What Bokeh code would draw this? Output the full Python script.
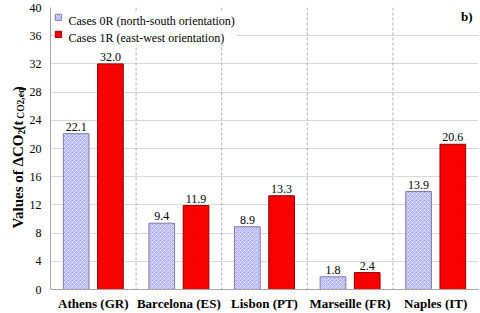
import math
from bokeh.plotting import figure
from bokeh.layouts import row
from bokeh.models import (ColumnDataSource, FactorRange, FixedTicker, Span, Label,
                          Legend, LegendItem, Range1d, BoxAnnotation)
from bokeh.transform import dodge
from bokeh.embed import file_html
from bokeh.resources import INLINE

# ---- data ----
cities = ["Athens (GR)", "Barcelona (ES)", "Lisbon (PT)", "Marseille (FR)", "Naples (IT)"]
cases_0r = [22.1, 9.4, 8.9, 1.8, 13.9]
cases_1r = [32.0, 11.9, 13.3, 2.4, 20.6]
y_ticks = [0, 4, 8, 12, 16, 20, 24, 28, 32, 36, 40]
series_names = ["Cases 0R (north-south orientation)", "Cases 1R (east-west orientation)"]

FONT = "Liberation Serif, Times New Roman, DejaVu Serif, serif"
H = 313
LW = 26  # width of the strip holding the y-axis title

src = ColumnDataSource(dict(
    city=cities,
    v0=cases_0r,
    v1=cases_1r,
    t0=["%.1f" % v for v in cases_0r],
    t1=["%.1f" % v for v in cases_1r],
))

p = figure(width=480 - LW, height=H, x_range=FactorRange(factors=cities, range_padding=0),
           y_range=(0, 40), output_backend="svg", toolbar_location=None,
           min_border_left=49 - LW, min_border_right=2, min_border_top=7,
           min_border_bottom=24)
p.outline_line_color = None
p.background_fill_color = "white"

# grids
p.xgrid.grid_line_color = None
p.ygrid.ticker = FixedTicker(ticks=y_ticks)
p.ygrid.grid_line_color = "#d9d9d9"
p.ygrid.grid_line_width = 1
for i in range(1, len(cities)):
    p.add_layout(Span(location=i, dimension="height", line_color="#b0b0b0",
                      line_dash="3 2", line_width=1, level="underlay"))

# white box behind the legend (hides the grid there)
p.add_layout(BoxAnnotation(left=4, right=186, top=277, bottom=245,
                           left_units="screen", right_units="screen",
                           top_units="screen", bottom_units="screen",
                           fill_color="white", fill_alpha=1.0, line_color=None,
                           level="underlay"))

r0 = p.vbar(x=dodge("city", -0.2, range=p.x_range), top="v0", width=0.3, source=src,
            fill_color="#b4b4f6", line_color="#7c7ca8", line_width=1,
            hatch_pattern="diagonal_cross", hatch_color="white", hatch_scale=4,
            hatch_weight=1, hatch_alpha=0.55)
r1 = p.vbar(x=dodge("city", 0.2, range=p.x_range), top="v1", width=0.3, source=src,
            fill_color="#ff0000", line_color="#900000", line_width=1,
            hatch_pattern="dot", hatch_color="#c80000", hatch_scale=3,
            hatch_weight=1, hatch_alpha=0.6)

p.text(x=dodge("city", -0.2, range=p.x_range), y="v0", text="t0", source=src,
       text_align="center", text_baseline="bottom", y_offset=-3,
       text_font=FONT, text_font_size="12px", text_color="black")
p.text(x=dodge("city", 0.2, range=p.x_range), y="v1", text="t1", source=src,
       text_align="center", text_baseline="bottom", y_offset=-3,
       text_font=FONT, text_font_size="12px", text_color="black")

# axes
p.yaxis.ticker = FixedTicker(ticks=y_ticks)
p.yaxis.major_label_text_font = FONT
p.yaxis.major_label_text_font_size = "12px"
p.yaxis.major_label_text_color = "black"
p.yaxis.major_tick_out = 0
p.yaxis.major_tick_in = 0
p.yaxis.minor_tick_out = 0
p.yaxis.minor_tick_in = 0
p.yaxis.major_label_standoff = 9
p.yaxis.axis_line_color = "#a6a6a6"

p.xaxis.major_label_text_font = FONT
p.xaxis.major_label_text_font_size = "13px"
p.xaxis.major_label_text_font_style = "bold"
p.xaxis.major_label_text_color = "black"
p.xaxis.major_tick_out = 0
p.xaxis.major_tick_in = 0
p.xaxis.major_label_standoff = 6
p.xaxis.axis_line_color = "#a6a6a6"

# legend: swatches from the renderers, texts as serif labels
legend = Legend(items=[LegendItem(label=" ", renderers=[r0]),
                       LegendItem(label=" ", renderers=[r1])],
                location="top_left", orientation="vertical",
                glyph_width=8, glyph_height=8, label_width=4,
                label_height=12, label_standoff=3, spacing=5, padding=3,
                margin=4, border_line_color=None, background_fill_alpha=0.0,
                label_text_font_size="12px")
p.add_layout(legend)
for name, ly in zip(series_names, [269, 252]):
    p.add_layout(Label(x=18, y=ly, x_units="screen", y_units="screen", text=name,
                       text_align="left", text_baseline="middle", text_font=FONT,
                       text_font_size="12px", text_color="black", level="overlay"))

# panel tag
p.add_layout(Label(x=422, y=281, x_units="screen", y_units="screen", text="b)",
                   text_align="right", text_baseline="top", text_font=FONT,
                   text_font_size="13px", text_font_style="bold", text_color="black",
                   level="overlay"))

# ---- y-axis title strip (text with subscripts) ----
t = figure(width=LW, height=H, x_range=Range1d(0, LW), y_range=Range1d(0, H),
           output_backend="svg", toolbar_location=None, x_axis_type=None,
           y_axis_type=None, min_border=0, min_border_left=0, min_border_right=0,
           min_border_top=0, min_border_bottom=0)
t.outline_line_color = None
t.xgrid.grid_line_color = None
t.ygrid.grid_line_color = None

base_x = 17.5
split = H - 141.0
t.text(x=[base_x], y=[split], text=["Values of \u0394CO"], angle=math.pi / 2,
       text_align="right", text_baseline="alphabetic", text_font=FONT,
       text_font_size="15px", text_font_style="bold", text_color="black")
pieces = [("2", 9.5, 0.5, 3.0),
          (" (t", 14.0, 0.916, 0.0),
          ("CO2,eq", 9.5, 3.25, 3.0),
          (")", 14.0, 0.333, 0.0)]
pos = split
for txt, size, em, shift in pieces:
    t.text(x=[base_x + shift], y=[pos], text=[txt], angle=math.pi / 2,
           text_align="left", text_baseline="alphabetic", text_font=FONT,
           text_font_size="%.1fpx" % size, text_font_style="bold", text_color="black")
    pos += em * size

layout = row(t, p)
open("out.html", "w").write(file_html(layout, INLINE))
